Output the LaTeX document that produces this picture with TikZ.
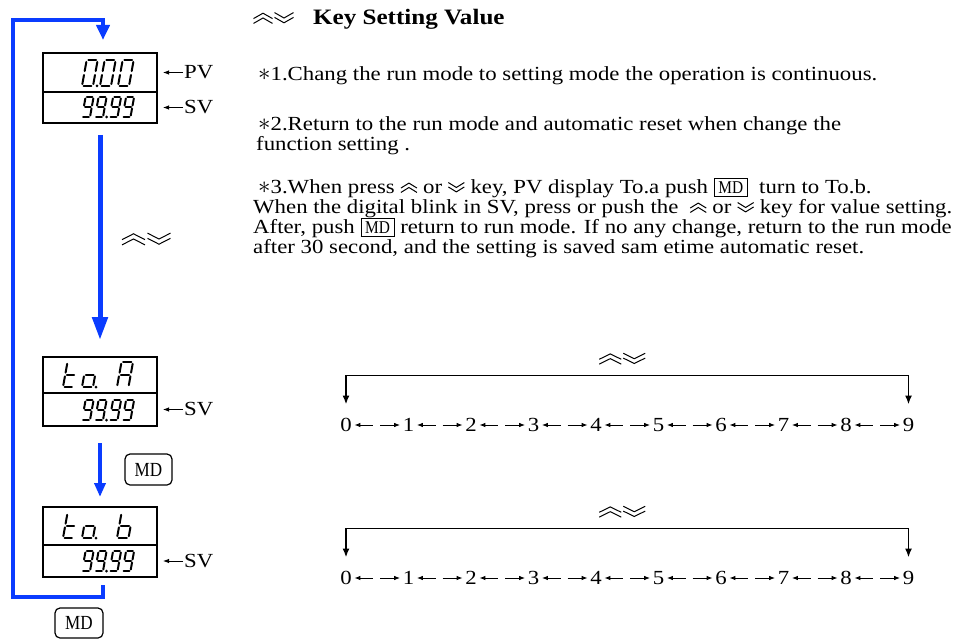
\documentclass[tikz,border=0pt]{standalone}
\usepackage{fontspec}
\setmainfont[FakeStretch=1.14]{Liberation Serif}
\usetikzlibrary{calc, positioning, arrows.meta}
\tikzset{>=latex}
\definecolor{keyblue}{RGB}{10,60,255}
\tikzset{
  keyline/.style={line width=1pt, line join=miter, line cap=butt},
  upkey/.pic={\draw[keyline] (-1,-0.05) -- (0,0.4) -- (1,-0.05) (-1,-0.45) -- (0,0) -- (1,-0.45);},
  dnkey/.pic={\draw[keyline] (-1,0.45) -- (0,0) -- (1,0.45) (-1,0.05) -- (0,-0.4) -- (1,0.05);}
}
\newcommand{\upk}{\tikz[baseline=-0.6ex, x=8pt, y=11pt] \pic {upkey};}
\newcommand{\dnk}{\tikz[baseline=-0.6ex, x=8pt, y=11pt] \pic {dnkey};}
\newcommand{\mdkey}{{\setlength{\fboxsep}{2.5pt}\setlength{\fboxrule}{1pt}\fbox{\makebox[27pt]{\fontsize{18}{18}\selectfont\scalebox{0.75}[1]{MD}}}}}
\newcommand{\starsym}{{\fontsize{24}{20}\selectfont$\ast$}}

% seven segment glyphs: segment end points in a 1 x 2 cell
\def\digzero{0.15/2/0.85/2, 1/1.85/1/1.15, 1/0.85/1/0.15, 0.15/0/0.85/0, 0/0.85/0/0.15, 0/1.85/0/1.15}
\def\dignine{0.15/2/0.85/2, 1/1.85/1/1.15, 1/0.85/1/0.15, 0.15/0/0.85/0, 0/1.85/0/1.15, 0.15/1/0.85/1}
\def\digA{0.15/2/0.85/2, 1/1.85/1/1.15, 1/0.85/1/0.15, 0/0.85/0/0.15, 0/1.85/0/1.15, 0.15/1/0.85/1}
\def\digb{1/0.85/1/0.15, 0.15/0/0.85/0, 0/0.85/0/0.15, 0/1.85/0/1.15, 0.15/1/0.85/1}
\def\digt{0.15/0/0.85/0, 0/0.85/0/0.15, 0/1.85/0/1.15, 0.15/1/0.85/1}
\def\diga{1/0.85/1/0.15, 0.15/0/0.85/0, 0/0.85/0/0.15, 0.15/1/0.85/1}

% x, baseline y, cell width, half height, segments
\newcommand{\sevenseg}[5]{%
  \begin{scope}[shift={(#1,#2)}, x=#3pt, y=#4pt, xslant=0.18]
    \foreach \ax/\ay/\bx/\by in #5 {\draw[lcd] (\ax,\ay) -- (\bx,\by);}
  \end{scope}}
\newcommand{\segdot}[2]{\fill (#1,#2) circle (1.5);}

\begin{document}
\begin{tikzpicture}[x=1pt, y=-1pt,
  lcdbox/.style={draw, line width=1.5pt, minimum width=114pt, inner sep=0pt, outer sep=0pt},
  lcd/.style={line width=2pt, line cap=round},
  tag/.style={font=\fontsize{20}{20}\selectfont, inner sep=1pt},
  tagarrow/.style={line width=0.9pt, >={Latex[length=6pt,width=4.5pt]}},
  keyarrow/.style={keyblue, line width=4.5pt, line join=miter},
  mdkey/.style={draw, rounded corners=5pt, line width=1.2pt, minimum width=47pt, minimum height=31pt, inner sep=0pt, font=\fontsize{20}{20}\selectfont},
  txt/.style={anchor=base west, align=left, inner sep=0pt, font=\fontsize{20}{20}\selectfont},
  num/.style={inner sep=2.5pt, font=\fontsize{20}{20}\selectfont},
  numarrow/.style={line width=0.9pt, >={Latex[length=6pt,width=4.5pt]}},
  bracket/.style={line width=1.8pt, >={Latex[length=9pt,width=7pt]}}
]
\useasboundingbox (0,0) rectangle (971,639);

%display in run mode
\node[lcdbox, minimum height=39pt] (pvtop) at (100,72.5) {};
\node[lcdbox, minimum height=31pt, below=0pt of pvtop] (pvbot) {};
\sevenseg{82}{86}{11}{13}{\digzero}
\segdot{97}{86}
\sevenseg{100}{86}{11}{13}{\digzero}
\sevenseg{118}{86}{11}{13}{\digzero}
\foreach \x in {82,95,109.5,122.5} {\sevenseg{\x}{117}{8}{10}{\dignine}}
\segdot{106.5}{117}

%display To.a
\node[lcdbox, minimum height=36pt] (tatop) at (100,375) {};
\node[lcdbox, minimum height=33pt, below=0pt of tatop] (tabot) {};
\sevenseg{63}{387}{10.5}{12.5}{\digt}
\sevenseg{82}{387}{11}{12.5}{\diga}
\segdot{96}{387}
\sevenseg{117}{387}{11.5}{12.5}{\digA}
\foreach \x in {82,95,109.5,122.5} {\sevenseg{\x}{420}{8}{10}{\dignine}}
\segdot{106.5}{420}

%display To.b
\node[lcdbox, minimum height=38pt] (tbtop) at (100,526) {};
\node[lcdbox, minimum height=32pt, below=0pt of tbtop] (tbbot) {};
\sevenseg{63}{538}{10.5}{12.5}{\digt}
\sevenseg{82}{538}{11}{12.5}{\diga}
\segdot{96}{538}
\sevenseg{117}{538}{11.5}{12.5}{\digb}
\foreach \x in {82,95,109.5,122.5} {\sevenseg{\x}{571}{8}{10}{\dignine}}
\segdot{106.5}{571}

%PV and SV pointers
\node[tag, right=26pt of pvtop] (pv) {PV};
\node[tag, right=26pt of pvbot] (sva) {SV};
\node[tag, right=26pt of tabot] (svb) {SV};
\node[tag, right=26pt of tbbot] (svc) {SV};
\draw[tagarrow,->] (pv.west) -- ([xshift=6pt]pvtop.east);
\draw[tagarrow,->] (sva.west) -- ([xshift=6pt]pvbot.east);
\draw[tagarrow,->] (svb.west) -- ([xshift=6pt]tabot.east);
\draw[tagarrow,->] (svc.west) -- ([xshift=6pt]tbbot.east);

%blue flow
\draw[keyarrow, line width=5pt, -{Triangle[length=23pt,width=15pt]}]
  ([yshift=-12pt]pvbot.south) -- ([yshift=17pt]tatop.north);
\path (133.5,239) pic[x=11.5pt, y=13pt] {upkey}
      (159,239) pic[x=11.5pt, y=13pt] {dnkey};
\draw[keyarrow, -{Triangle[length=14pt,width=11pt]}]
  ([yshift=-17pt]tabot.south) -- ([yshift=10pt]tbtop.north);
\node[mdkey] (mda) at (148.5,469.5) {\scalebox{0.75}[1]{MD}};
\draw[keyarrow, -{Triangle[length=15pt,width=13pt]}]
  ([xshift=3pt,yshift=-8pt]tbbot.south) -- ++(0,12) coordinate (turn)
  -| (13,20) -| ([xshift=3pt,yshift=13pt]pvtop.north);
\node[mdkey, minimum width=48pt, minimum height=30pt] (mdb) at (79,623) {\scalebox{0.75}[1]{MD}};

%notes
\path (263,18) pic[x=9.5pt, y=12pt] {upkey}
      (284,18) pic[x=9.5pt, y=12pt] {dnkey};
\node[txt, font=\fontsize{22}{22}\selectfont\bfseries] (head) at (313,25) {Key Setting Value};
\node[txt] (note1) at (258,81) {\starsym1.Chang the run mode to setting mode the operation is continuous.};
\node[txt] (note2) at (256,151) {\hspace*{2pt}\starsym2.Return to the run mode and automatic reset when change the\\function setting .};
\node[txt] (note3) at (253,253) {\hspace*{5pt}\starsym3.When press \upk\ or \dnk\ key, PV display To.a push \mdkey\ \ turn to To.b.\\
  When the digital blink in SV, press or push the \ \upk\ or \dnk\ key for value setting.\\
  After, push \mdkey\ return to run mode. If no any change, return to the run mode\\
  after 30 second, and the setting is saved sam etime automatic reset.};

%value rows
\foreach \row/\y in {a/425, b/578} {
  \foreach \i in {0,...,9} {\node[num] (\row\i) at ({346+62.5*\i},\y) {\i};}
  \foreach \i [count=\j from 1] in {0,...,8} {
    \draw[numarrow,<-] (\row\i.east) -- ++(19,0);
    \draw[numarrow,->] ($(\row\j.west)+(-20,0)$) -- (\row\j.west);
  }
  \draw[bracket,<->] ([yshift=11pt]\row0.north) |- ([yshift=40pt]\row9.north) -- ([yshift=11pt]\row9.north);
  \coordinate (mid\row) at ($(\row4.north)!0.5!(\row5.north)+(0,-57)$);
  \path ($(mid\row)+(-17,0)$) pic[x=11pt, y=12pt] {upkey}
        ($(mid\row)+(7,0)$) pic[x=11pt, y=12pt] {dnkey};
}
\end{tikzpicture}
\end{document}
